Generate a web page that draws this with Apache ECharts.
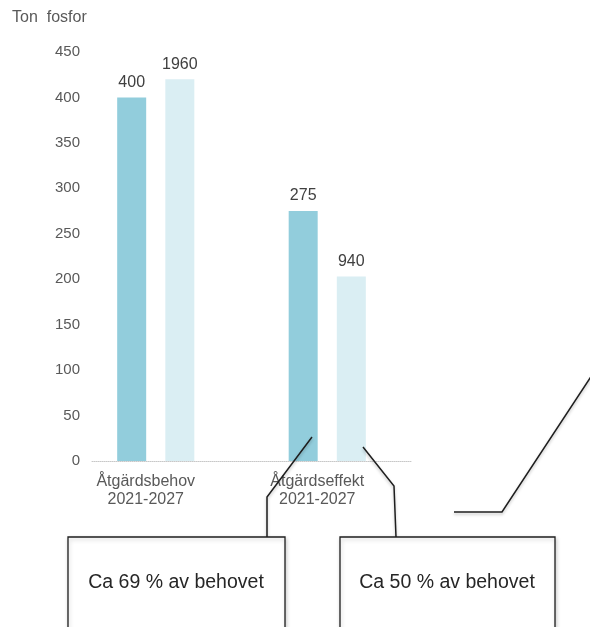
<!DOCTYPE html>
<html>
<head>
<meta charset="utf-8">
<script src="https://cdn.jsdelivr.net/npm/echarts@6/dist/echarts.min.js"></script>
<style>html,body{margin:0;padding:0;background:#fff}#c{width:590px;height:627px}</style>
</head>
<body>
<div id="c"></div>
<script>
const categories = ['Åtgärdsbehov\n2021-2027', 'Åtgärdseffekt\n2021-2027'];
const darkValues = [400, 275];
const lightValues = [420, 203];
const lightLabels = ['1960', '940'];
const yTicks = { min: 0, max: 450, interval: 50 };
const unitTitle = 'Ton  fosfor';
const notes = ['Ca 69 % av behovet', 'Ca 50 % av behovet'];

const chart = echarts.init(document.getElementById('c'), null, { renderer: 'canvas' });
const font = 'Liberation Sans, Arial, sans-serif';
const lineStyle = { stroke: '#1e1e1e', lineWidth: 1.5, fill: null, shadowBlur: 3, shadowColor: 'rgba(0,0,0,0.25)', shadowOffsetY: 2 };
const boxStyle = { stroke: '#1e1e1e', lineWidth: 1.3, fill: '#fff', shadowBlur: 4, shadowColor: 'rgba(0,0,0,0.2)', shadowOffsetY: 2, shadowOffsetX: 1 };

chart.setOption({
  animation: false,
  backgroundColor: '#fff',
  textStyle: { fontFamily: font },
  title: { text: unitTitle, left: 7, top: 5, textStyle: { fontSize: 16, fontWeight: 'normal', color: '#595959', fontFamily: font } },
  grid: [
    { left: 70, right: 177, top: 52, bottom: 166 },
    { left: 92, right: 179, top: 52, bottom: 166 }
  ],
  xAxis: [
    { type: 'category', data: categories, gridIndex: 0,
      axisLine: { show: false }, axisTick: { show: false },
      axisLabel: { color: '#595959', fontSize: 16, lineHeight: 18, margin: 12, padding: [0, 20, 0, 0], fontFamily: font } },
    { type: 'category', data: categories, gridIndex: 1,
      axisLine: { show: true, lineStyle: { color: '#c8c8c8', type: 'dotted', width: 1 } },
      axisTick: { show: false }, axisLabel: { show: false } }
  ],
  yAxis: [
    { type: 'value', gridIndex: 0, min: yTicks.min, max: yTicks.max, interval: yTicks.interval, show: false, splitLine: { show: false } },
    { type: 'value', gridIndex: 1, min: yTicks.min, max: yTicks.max, interval: yTicks.interval,
      axisLine: { show: false }, axisTick: { show: false }, splitLine: { show: false },
      axisLabel: { color: '#595959', fontSize: 15, margin: 12, fontFamily: font } }
  ],
  series: [
    { type: 'bar', xAxisIndex: 0, yAxisIndex: 0, data: darkValues, barWidth: 29, barGap: '66%',
      itemStyle: { color: '#92cddc' },
      label: { show: true, position: 'top', distance: 7, color: '#404040', fontSize: 16, fontFamily: font } },
    { type: 'bar', xAxisIndex: 0, yAxisIndex: 0, data: lightValues, barWidth: 29, barGap: '66%',
      itemStyle: { color: '#daeef3' },
      label: { show: true, position: 'top', distance: 7, color: '#404040', fontSize: 16, fontFamily: font,
        formatter: p => lightLabels[p.dataIndex] } }
  ],
  graphic: [
    { type: 'polyline', shape: { points: [[312, 437], [267, 497], [267, 537]] }, style: lineStyle, z: 100 },
    { type: 'polyline', shape: { points: [[363, 447], [394, 486], [396, 537]] }, style: lineStyle, z: 100 },
    { type: 'polyline', shape: { points: [[592, 375], [502, 512], [454, 512]] }, style: lineStyle, z: 100 },
    { type: 'rect', shape: { x: 68, y: 537, width: 217, height: 110 }, style: boxStyle, z: 100 },
    { type: 'rect', shape: { x: 340, y: 537, width: 215, height: 110 }, style: boxStyle, z: 100 },
    { type: 'text', x: 176, y: 583, style: { text: notes[0], fill: '#262626', font: '19.5px ' + font, textAlign: 'center', textVerticalAlign: 'middle' }, z: 101 },
    { type: 'text', x: 447, y: 583, style: { text: notes[1], fill: '#262626', font: '19.5px ' + font, textAlign: 'center', textVerticalAlign: 'middle' }, z: 101 }
  ]
});
</script>
</body>
</html>
